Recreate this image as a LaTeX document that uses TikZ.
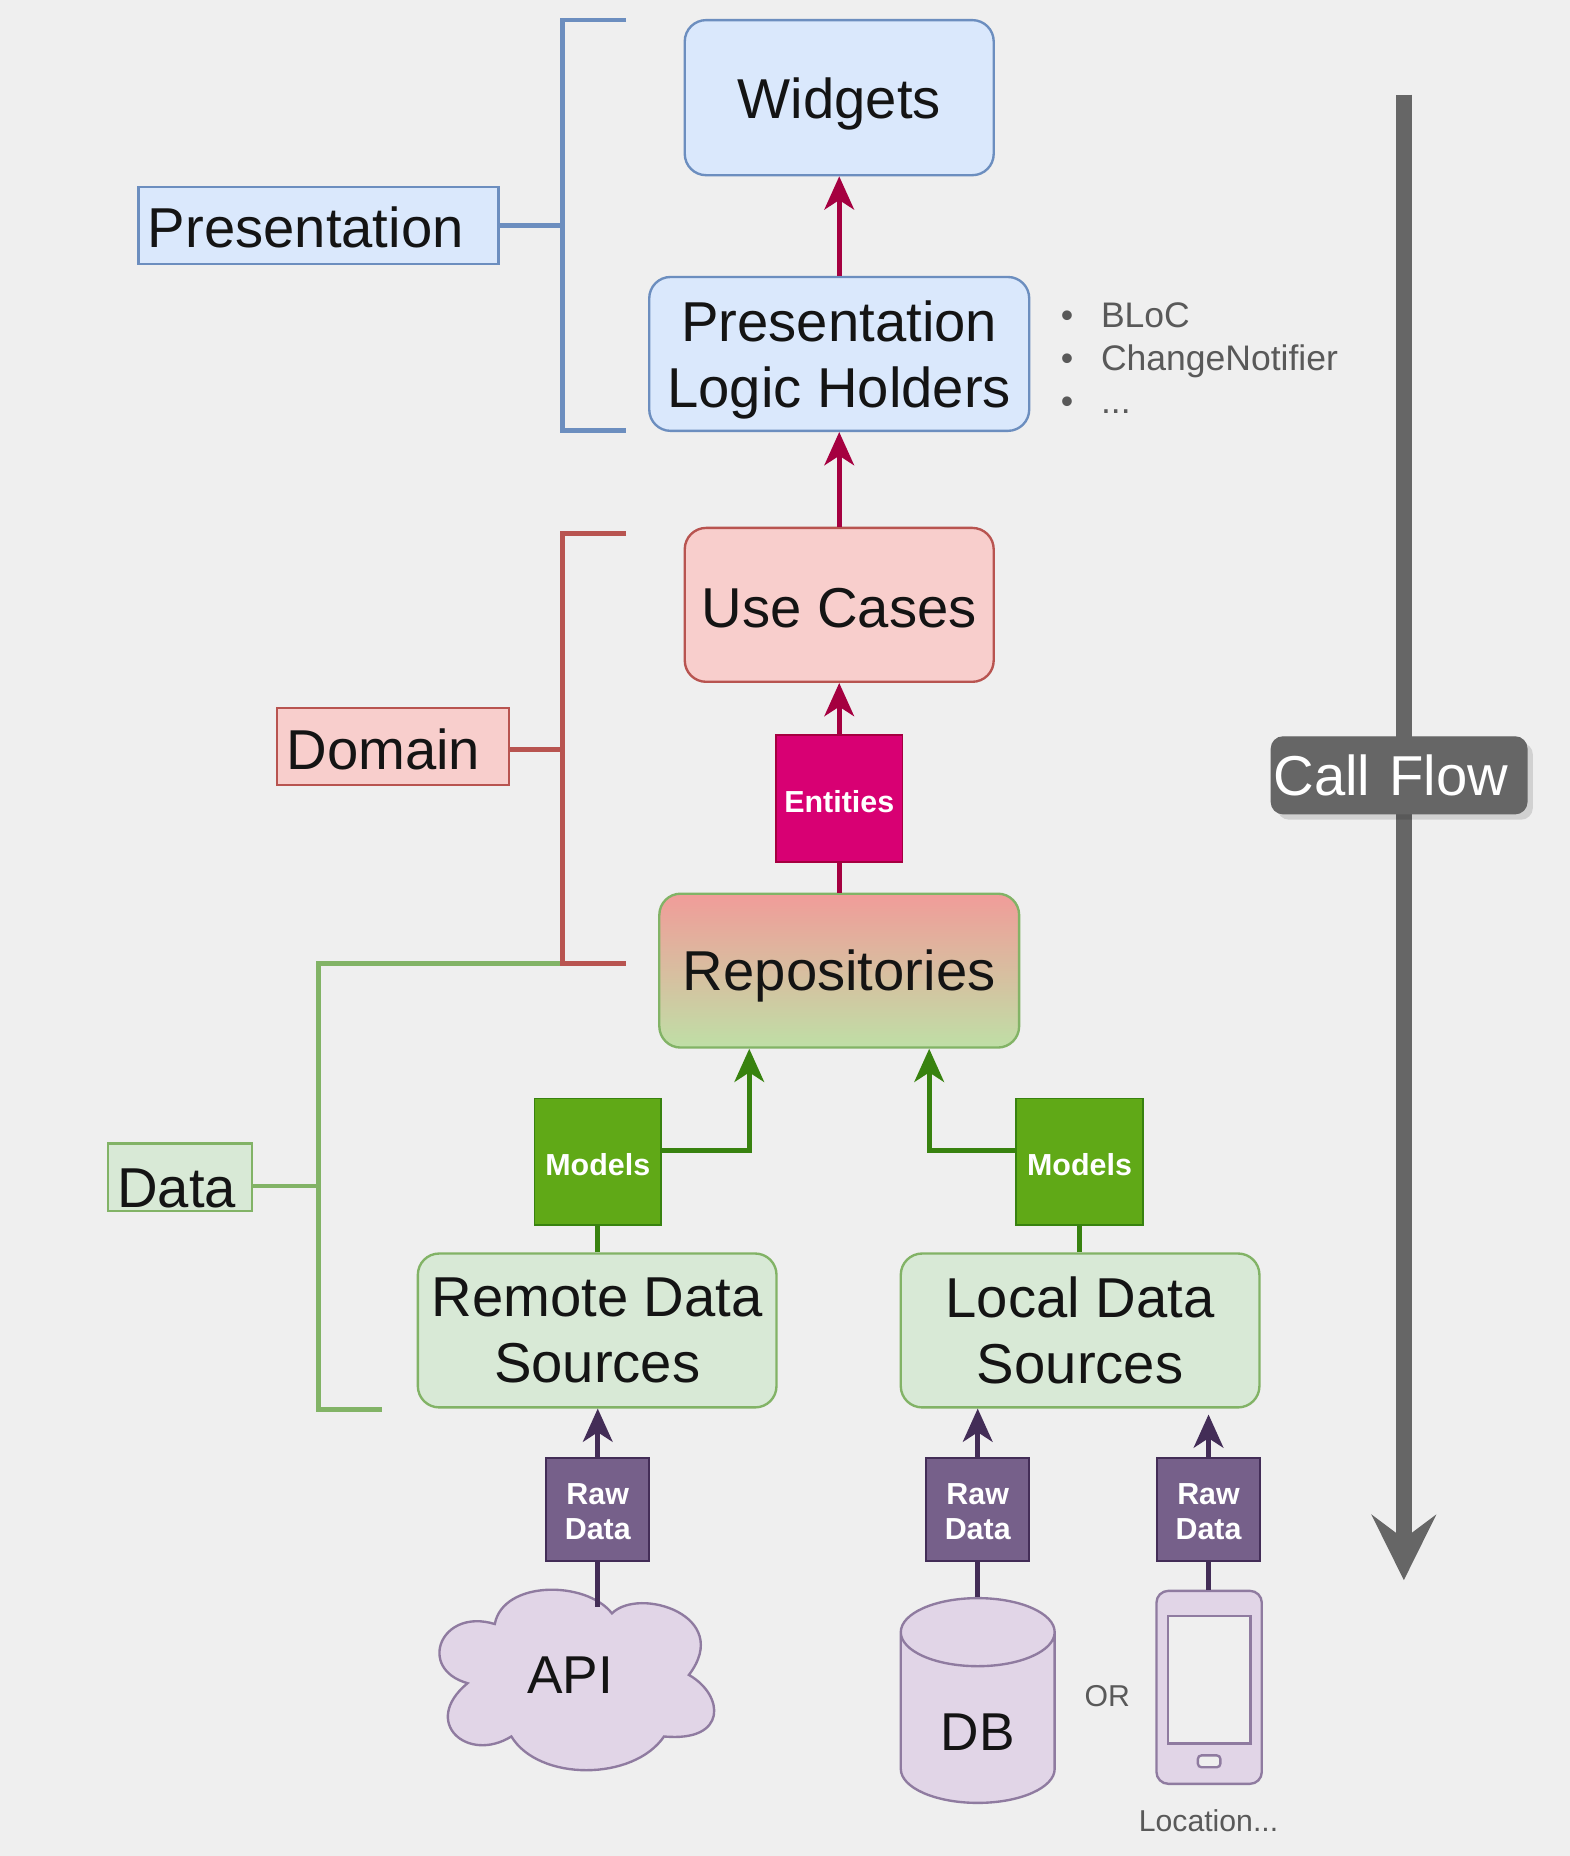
\documentclass[tikz,border=0pt]{standalone}
\usepackage{fontspec}
\setmainfont{Liberation Sans}
\usetikzlibrary{arrows.meta,shapes.geometric,shadows}

\definecolor{pagebg}{HTML}{EFEFEF}
\definecolor{blueFill}{HTML}{DAE8FC}
\definecolor{blueLine}{HTML}{6C8EBF}
\definecolor{redFill}{HTML}{F8CECC}
\definecolor{redLine}{HTML}{B85450}
\definecolor{repoTop}{HTML}{F19C99}
\definecolor{repoBottom}{HTML}{BFDFA6}
\definecolor{greenFill}{HTML}{D8E9D6}
\definecolor{greenLine}{HTML}{82B366}
\definecolor{purpleFill}{HTML}{E1D5E7}
\definecolor{purpleLine}{HTML}{8F7BA0}
\definecolor{entityFill}{HTML}{D80073}
\definecolor{entityLine}{HTML}{A50040}
\definecolor{modelFill}{HTML}{60A917}
\definecolor{modelLine}{HTML}{38820F}
\definecolor{rawFill}{HTML}{76608A}
\definecolor{rawLine}{HTML}{432D57}
\definecolor{flowGray}{HTML}{666666}

\tikzset{
    layerbox/.style={draw, line width=2pt, rounded corners=18pt, inner sep=0pt, align=center, text depth=0pt, font=\fontsize{47.5}{56}\selectfont, text=black!92},
    sidebox/.style={draw, line width=2pt, inner sep=0pt, align=left, font=\fontsize{47.5}{56}\selectfont, text=black!92, text depth=0pt},
    chip/.style={draw, line width=1.5pt, inner sep=0pt, align=center, text=white, text height=23.5pt, text depth=0pt, font=\fontsize{25.7}{30}\selectfont\bfseries},
    rawchip/.style={chip, fill=rawFill, draw=rawLine, minimum size=87pt, text height=51pt},
    link/.style={line width=4pt},
    tiplink/.style={link, -{Stealth[length=28pt, width=25pt, inset=8pt]}},
    bracket/.style={line width=4pt},
    smalltext/.style={inner sep=0pt, text=black!65, font=\fontsize{25.5}{30}\selectfont},
}

\begin{document}
\begin{tikzpicture}[x=1pt, y=-1pt]
    \fill[pagebg] (0,0) rectangle (1326.2,1568);

    % Define layer boxes
    \node (widgets) [layerbox, fill=blueFill, draw=blueLine, minimum width=261pt, minimum height=131pt] at (709,82.5) {Widgets};
    \node (holders) [layerbox, fill=blueFill, draw=blueLine, minimum width=321pt, minimum height=130pt] at (709,299) {Presentation\\Logic Holders};
    \node (usecases) [layerbox, fill=redFill, draw=redLine, minimum width=261pt, minimum height=130pt, text height=38pt] at (709,511) {Use Cases};
    \node (repos) [layerbox, top color=repoTop, bottom color=repoBottom, draw=greenLine, minimum width=304pt, minimum height=130pt] at (709,820) {Repositories};
    \node (remote) [layerbox, fill=greenFill, draw=greenLine, minimum width=303pt, minimum height=130pt] at (504.5,1124) {Remote Data\\Sources};
    \node (local) [layerbox, fill=greenFill, draw=greenLine, minimum width=303pt, minimum height=130pt] at (912.5,1124) {Local Data\\Sources};

    % Define chips
    \node (entities) [chip, fill=entityFill, draw=entityLine, minimum size=107pt] at (709,674.5) {Entities};
    \node (modelsleft) [chip, fill=modelFill, draw=modelLine, minimum size=107pt] at (505,981.5) {Models};
    \node (modelsright) [chip, fill=modelFill, draw=modelLine, minimum size=107pt] at (912,981.5) {Models};
    \node (rawapi) [rawchip] at (505,1275.5) {Raw\\Data};
    \node (rawdb) [rawchip] at (826,1275.5) {Raw\\Data};
    \node (rawphone) [rawchip] at (1021,1275.5) {Raw\\Data};

    % Define sources
    \coordinate (cloudtop) at (505,1358);
    \path[draw=purpleLine, fill=purpleFill, line width=2pt]
        (517,1363) .. controls (540,1340) and (620,1365) .. (582,1415)
        .. controls (612,1432) and (615,1472) .. (561,1467)
        .. controls (535,1505) and (455,1505) .. (432,1467)
        .. controls (395,1490) and (355,1455) .. (395,1422)
        .. controls (352,1410) and (372,1358) .. (418,1372)
        .. controls (425,1335) and (495,1335) .. (517,1363) -- cycle;
    \node (api) [inner sep=0pt, text=black!92, font=\fontsize{45}{54}\selectfont] at (481.5,1415) {API};
    \node (db) [cylinder, shape border rotate=90, aspect=0.92, draw=purpleLine, fill=purpleFill, line width=2pt, minimum width=130pt, minimum height=173pt, inner sep=0pt, text=black!92, text height=55pt, text depth=0pt, font=\fontsize{45}{54}\selectfont] at (826,1451.5) {DB};
    \node (phone) [draw=purpleLine, fill=purpleFill, line width=2pt, rounded corners=10pt, minimum width=89pt, minimum height=163pt, inner sep=0pt] at (1021.5,1425.5) {};
    \node (screen) [draw=purpleLine, fill=pagebg, line width=2pt, minimum width=70pt, minimum height=108pt, inner sep=0pt] at (1021.5,1419) {};
    \node (homekey) [draw=purpleLine, fill=pagebg, line width=2pt, rounded corners=3pt, minimum width=19pt, minimum height=10pt, inner sep=0pt] at (1021.5,1488) {};
    \node (ortext) [smalltext] at (935.5,1433) {OR};
    \node (location) [smalltext] at (1021,1538) {Location...};

    % Define side labels
    \node (presentation) [sidebox, fill=blueFill, draw=blueLine, text width=288pt, minimum width=304pt, minimum height=65pt, text height=37pt] at (269,190.5) {Presentation};
    \node (domain) [sidebox, fill=redFill, draw=redLine, text width=180pt, minimum width=196pt, minimum height=65pt, text height=39pt] at (332,630.5) {Domain};
    \node (data) [sidebox, fill=greenFill, draw=greenLine, text width=106pt, minimum width=122pt, minimum height=57pt, text height=51pt] at (152,994.5) {Data};
    \node (holdernotes) [anchor=west, inner sep=0pt, align=left, text=black!65, font=\fontsize{30}{36}\selectfont] at (896,302.5) {•\hspace{23.5pt}BLoC\\•\hspace{23.5pt}ChangeNotifier\\•\hspace{23.5pt}...};

    % Draw brackets
    \coordinate (bluetop) at (529,17);
    \coordinate (bluebottom) at (529,364);
    \coordinate (bluespine) at (475,190.5);
    \coordinate (redtop) at (529,451);
    \coordinate (redbottom) at (529,814);
    \coordinate (redspine) at (475,633);
    \coordinate (greentop) at (475,814);
    \coordinate (greenbottom) at (323,1191);
    \coordinate (greenspine) at (269,1002);
    \draw[bracket, greenLine] (greentop) -- (greenspine |- greentop) -- (greenspine |- greenbottom) -- (greenbottom);
    \draw[bracket, greenLine] (data.east |- greenspine) -- (greenspine);
    \draw[bracket, blueLine] (bluetop) -- (bluespine |- bluetop) -- (bluespine |- bluebottom) -- (bluebottom);
    \draw[bracket, blueLine] (presentation.east |- bluespine) -- (bluespine);
    \draw[bracket, redLine] (redtop) -- (redspine |- redtop) -- (redspine |- redbottom) -- (redbottom);
    \draw[bracket, redLine] (domain.east |- redspine) -- (redspine);

    % Draw arrows
    \draw[tiplink, entityLine] (holders.north) -- (widgets.south);
    \draw[tiplink, entityLine] (usecases.north) -- (holders.south);
    \draw[tiplink, entityLine] (entities.north) -- (usecases.south);
    \draw[link, entityLine] (repos.north) -- (entities.south);
    \draw[tiplink, modelLine] ([yshift=9.5pt]modelsleft.east) -| ([xshift=-76pt]repos.south);
    \draw[tiplink, modelLine] ([yshift=9.5pt]modelsright.west) -| ([xshift=76pt]repos.south);
    \draw[link, modelLine] (remote.north -| modelsleft) -- (modelsleft.south);
    \draw[link, modelLine] (local.north -| modelsright) -- (modelsright.south);
    \draw[tiplink, rawLine] (rawapi.north) -- (rawapi |- remote.south);
    \draw[tiplink, rawLine] (rawdb.north) -- (rawdb |- local.south);
    \draw[tiplink, rawLine, shorten >=5pt] (rawphone.north) -- (rawphone |- local.south);
    \draw[link, rawLine] (rawapi.south) -- (cloudtop);
    \draw[link, rawLine] (rawdb.south) -- (db.north);
    \draw[link, rawLine] (rawphone.south) -- (phone.north -| rawphone);

    % Draw call flow
    \coordinate (flowtop) at (1186,80);
    \coordinate (flowend) at (1186,1335);
    \draw[line width=13pt, flowGray, -{Stealth[length=55pt, width=54pt, inset=20pt]}] (flowtop) -- (flowend);
    \node (callflow) [draw=flowGray, fill=flowGray, rounded corners=10pt, line width=1pt, minimum height=65pt, inner xsep=2pt, inner ysep=0pt, text width=212pt, align=left, text=white, font=\fontsize{47.5}{56}\selectfont, text depth=0pt, drop shadow={shadow xshift=5pt, shadow yshift=-5pt, opacity=.12, fill=black}] at (1182,655) {Call Flow};
\end{tikzpicture}
\end{document}
